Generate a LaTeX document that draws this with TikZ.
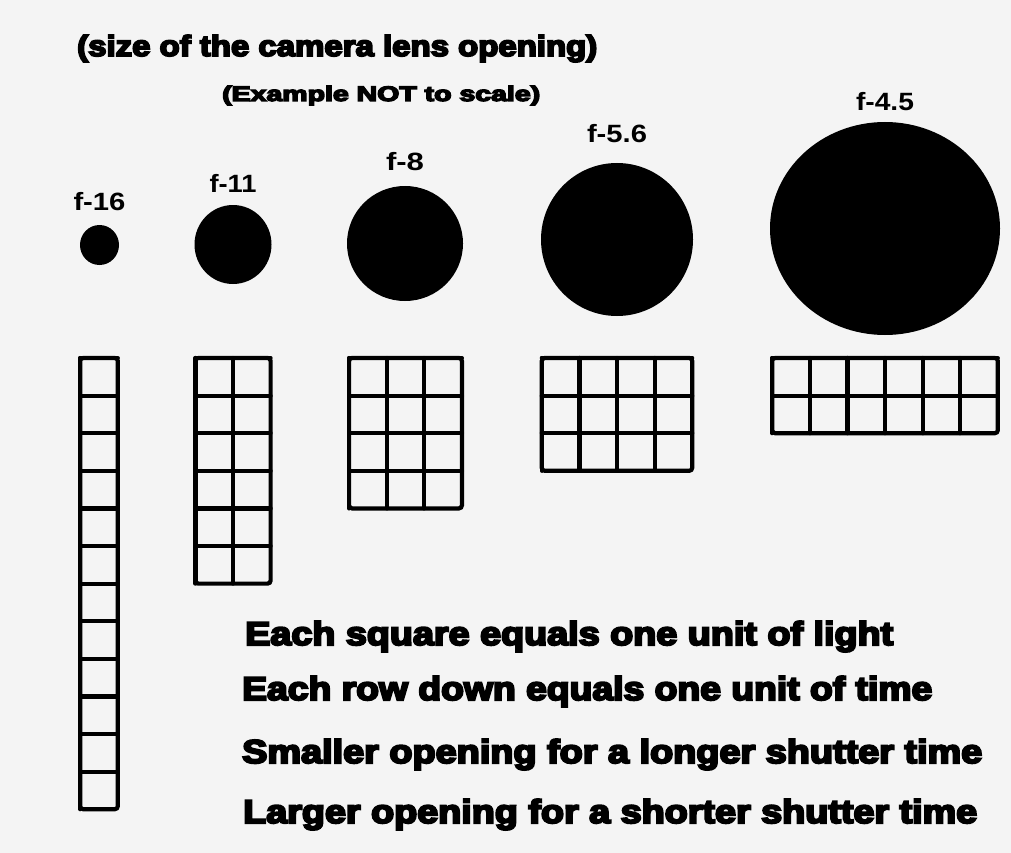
\documentclass[tikz,border=0pt]{standalone}
\usepackage{fontspec}
\usepackage{graphicx}
\setmainfont{Liberation Sans}
\newfontfamily\heavyfont[FakeBold=6]{Liberation Sans Bold}
\usetikzlibrary{positioning,shapes.geometric}

\definecolor{paper}{gray}{0.955}
% stretch a line of text to a given width, keep its height
\newcommand{\fitw}[2]{\resizebox{#1pt}{\height}{#2}}

\tikzset{
  hole/.style={ellipse, fill=black, inner sep=0pt},
  fnum/.style={anchor=base, inner sep=0pt, font=\bfseries\fontsize{25}{25}\selectfont},
  cell/.style={draw=black, line width=4.2pt, line cap=round},
  note/.style={anchor=base west, inner sep=0pt, font=\heavyfont\fontsize{33}{33}\selectfont},
}

\begin{document}
\begin{tikzpicture}[x=1pt, y=-1pt]
  % page
  \fill[paper] (0,0) rectangle (1011,853);
  \useasboundingbox (0,0) rectangle (1011,853);

  % headings
  \node[anchor=base west, inner sep=0pt, font=\heavyfont\fontsize{29}{29}\selectfont]
    (title) at (77,56) {\fitw{520}{(size of the camera lens opening)}};
  \node[anchor=base west, inner sep=0pt, font=\heavyfont\fontsize{21}{21}\selectfont]
    (subtitle) at (222,101) {\fitw{318}{(Example NOT to scale)}};

  % openings and their f-numbers
  \foreach \nm/\cx/\cy/\w/\h/\lb/\ly/\lw in {
      f16/99.5/245/39/40/f-16/210/52,
      f11/233/244.5/77/79/f-11/193/47,
      f8/405/243.5/116/115/f-8/171/38,
      f56/617/239.5/152/153/f-5.6/143/60,
      f45/885/228.5/230/213/f-4.5/111/58}{
    \node[hole, minimum width=\w pt, minimum height=\h pt] (\nm) at (\cx,\cy) {};
    \node[fnum] (\nm lbl) at (\cx,\ly) {\fitw{\lw}{\lb}};
  }

  % units of light: every grid has 12 squares
  \foreach \cx/\nc/\nr in {99/1/12, 233/2/6, 405.5/3/4, 617/4/3, 885/6/2}{
    \begin{scope}[shift={(\cx-\nc*18.8,358)}]
      \foreach \r in {1,...,\nr}
        \draw[cell] (0,\r*37.6-37.6) -- (\nc*37.6,\r*37.6-37.6);
      \foreach \c in {1,...,\nc}
        \draw[cell] (\c*37.6-37.6,0) -- (\c*37.6-37.6,\nr*37.6);
      \draw[cell, rounded corners=3pt] (0,0) rectangle (\nc*37.6,\nr*37.6);
    \end{scope}
  }

  % notes
  \node[note] (n1) at (245,645) {\fitw{648}{Each square equals one unit of light}};
  \node[note] (n2) at (242,700) {\fitw{690}{Each row down equals one unit of time}};
  \node[note] (n3) at (242,763) {\fitw{740}{Smaller opening for a longer shutter time}};
  \node[note] (n4) at (243,823) {\fitw{734}{Larger opening for a shorter shutter time}};
\end{tikzpicture}
\end{document}
